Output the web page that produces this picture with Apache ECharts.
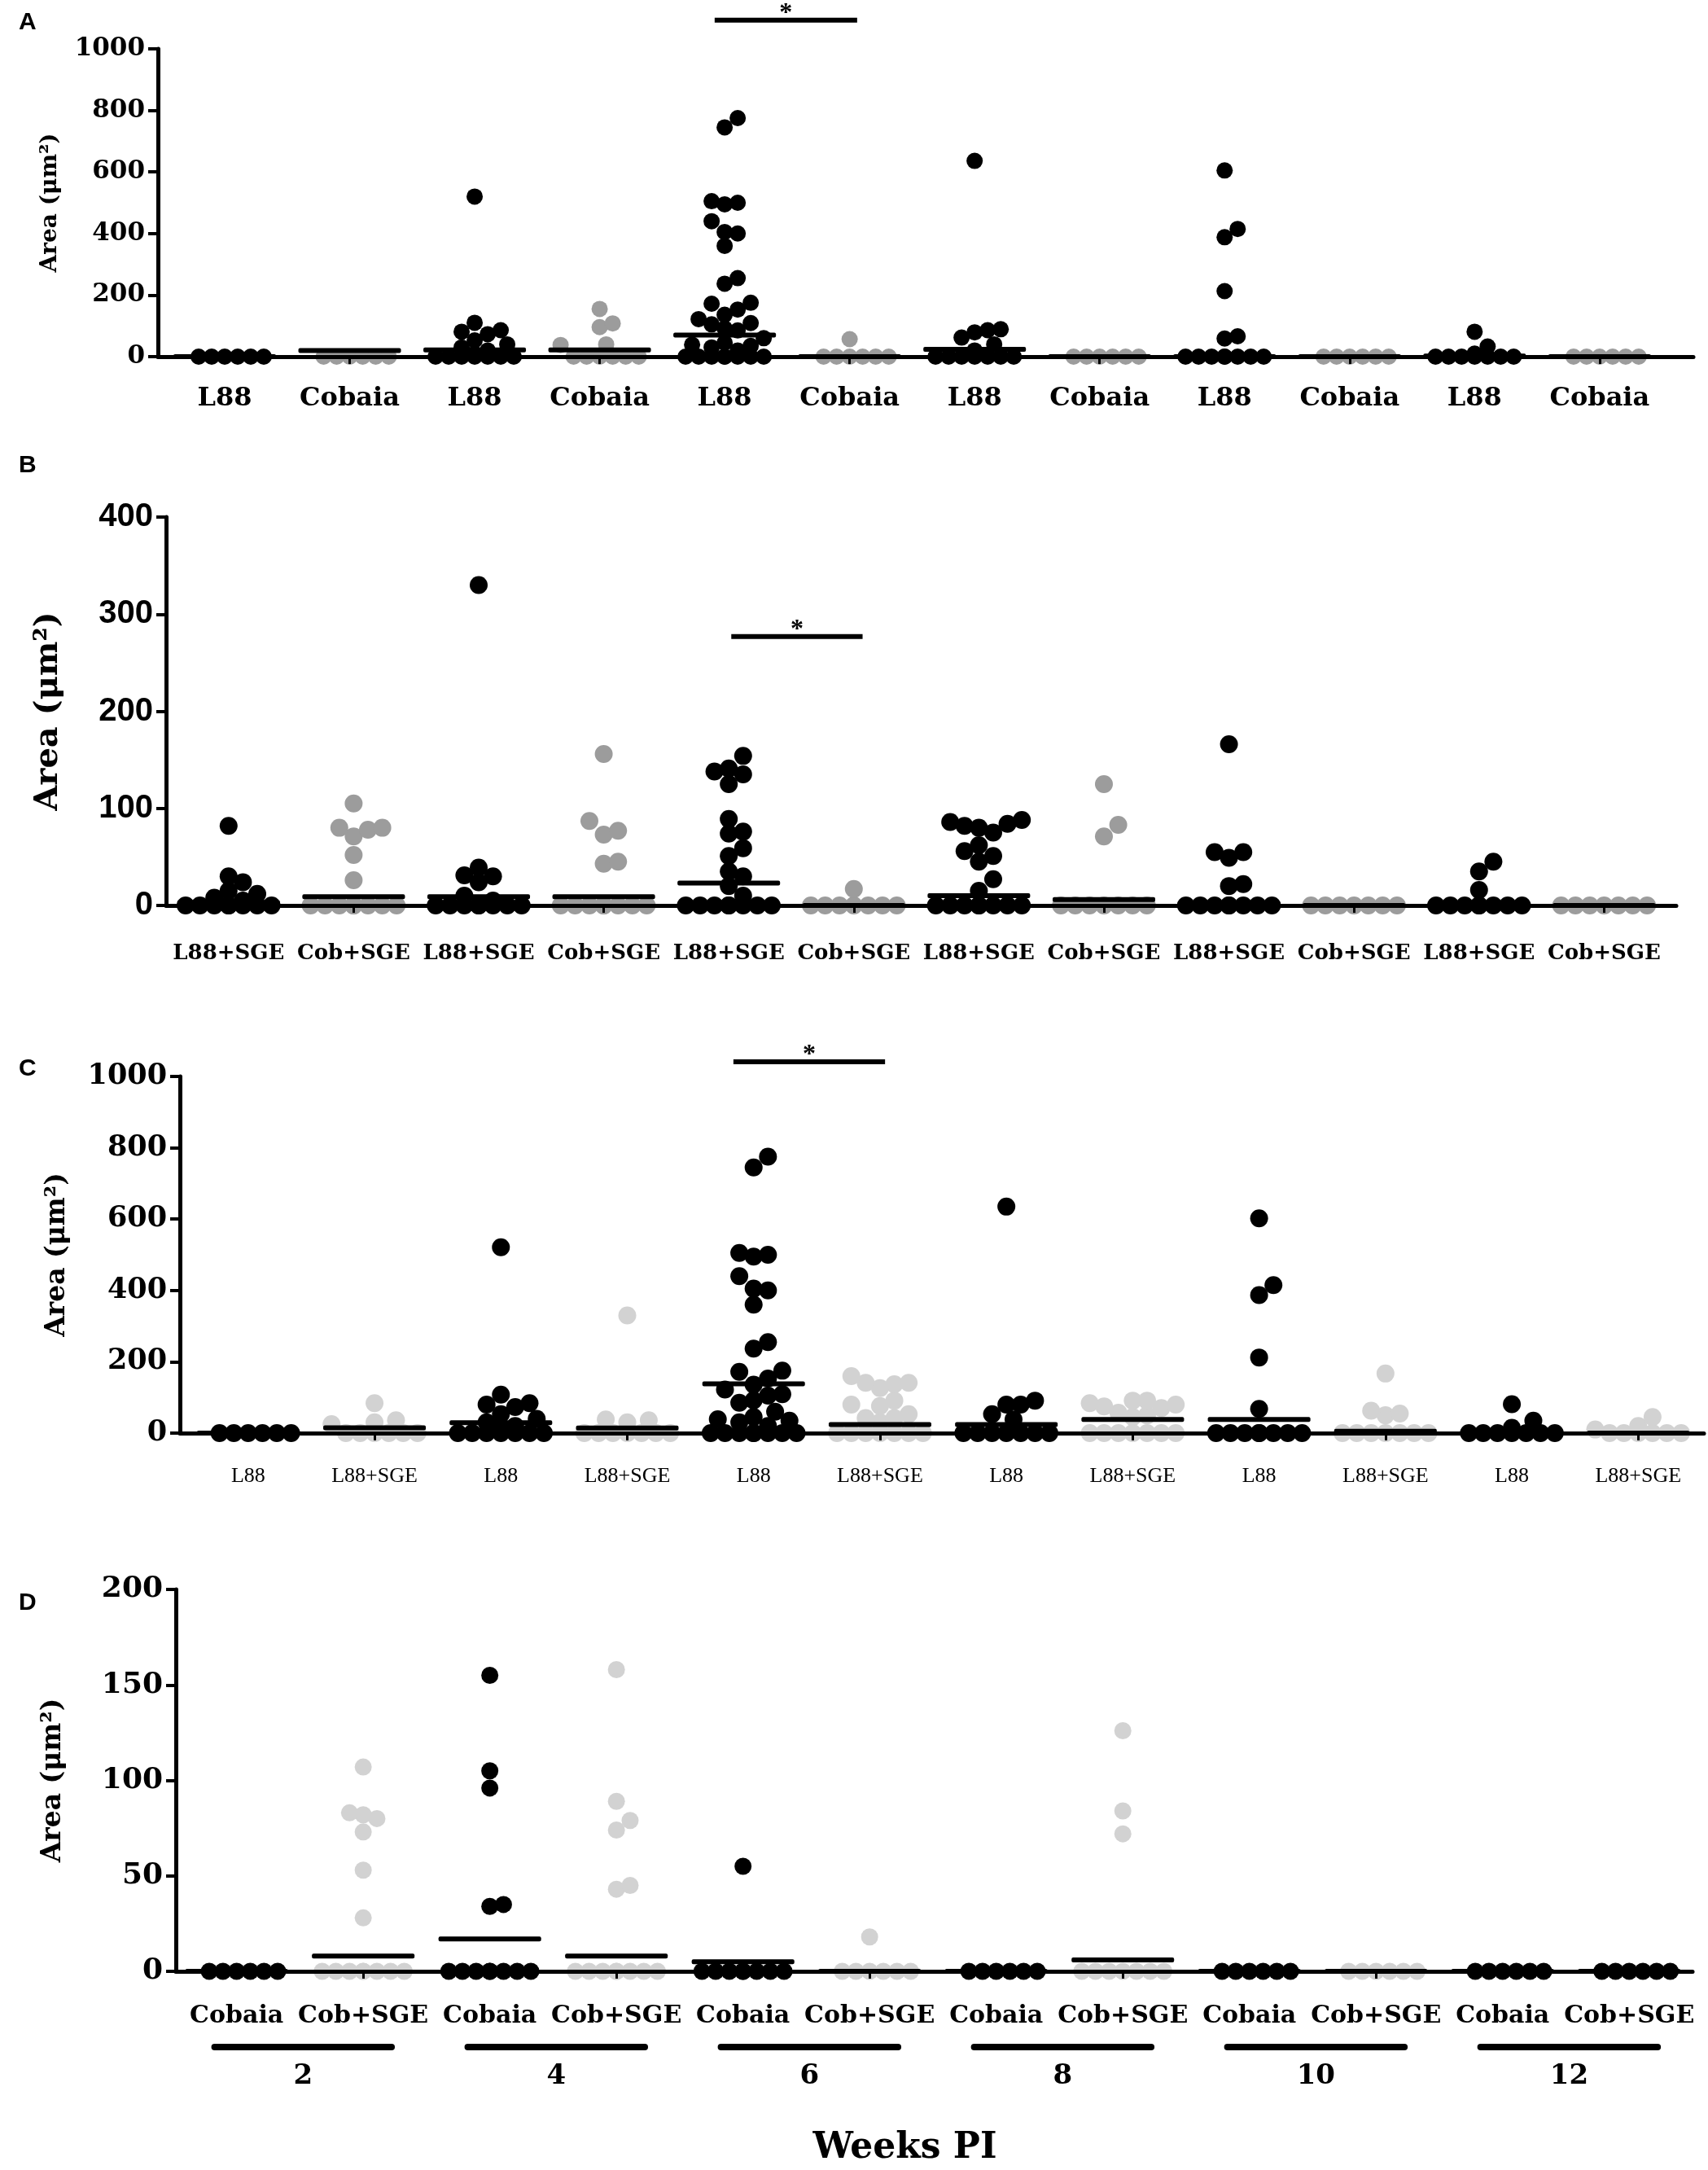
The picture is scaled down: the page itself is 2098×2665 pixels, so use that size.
<!DOCTYPE html>
<html>
<head>
<meta charset="utf-8">
<script src="https://cdn.jsdelivr.net/npm/echarts@6/dist/echarts.min.js"></script>
<style>
html, body { margin: 0; padding: 0; background: #fff; }
#chart { width: 2098px; height: 2665px; }
</style>
</head>
<body>
<div id="chart"></div>
<script>
// ---------- data ----------
const labelsA = ['L88', 'Cobaia', 'L88', 'Cobaia', 'L88', 'Cobaia', 'L88', 'Cobaia', 'L88', 'Cobaia', 'L88', 'Cobaia'];
const pointsA = [
    [0, 0, 0, 0, 0, 0],
    [0, 0, 0, 0, 0, 0],
    [520, 110, 86, 81, 73, 53, 40, 30, 20, 10, 0, 0, 0, 0, 0, 0, 0],
    [155, 108, 96, 40, 38, 0, 0, 0, 0, 0, 0],
    [775, 745, 505, 500, 495, 440, 405, 400, 360, 255, 237, 175, 172, 153, 136, 122, 109, 105, 92, 85, 60, 45, 39, 35, 30, 20, 0, 0, 0, 0, 0, 0, 0, 0],
    [57, 0, 0, 0, 0, 0, 0],
    [636, 89, 86, 79, 62, 40, 20, 0, 0, 0, 0, 0, 0, 0],
    [0, 0, 0, 0, 0, 0],
    [605, 415, 388, 213, 66, 59, 0, 0, 0, 0, 0, 0, 0, 0],
    [0, 0, 0, 0, 0, 0],
    [81, 33, 10, 0, 0, 0, 0, 0, 0, 0],
    [0, 0, 0, 0, 0, 0]
];
const meansA = [0, 20, 22, 22, 70, 0, 24, 0, 0, 0, 2, 0];
const sigA = { from: 4, to: 5, y: 1093 };

const labelsB = ['L88+SGE', 'Cob+SGE', 'L88+SGE', 'Cob+SGE', 'L88+SGE', 'Cob+SGE', 'L88+SGE', 'Cob+SGE', 'L88+SGE', 'Cob+SGE', 'L88+SGE', 'Cob+SGE'];
const pointsB = [
    [82, 30, 24, 15, 12, 8, 5, 0, 0, 0, 0, 0, 0, 0, 0],
    [105, 80, 80, 78, 71, 52, 26, 0, 0, 0, 0, 0, 0, 0, 0],
    [330, 39, 31, 30, 24, 10, 5, 0, 0, 0, 0, 0, 0, 0, 0],
    [156, 87, 77, 73, 45, 43, 0, 0, 0, 0, 0, 0, 0, 0],
    [154, 141, 138, 135, 125, 89, 76, 74, 59, 51, 35, 30, 20, 10, 0, 0, 0, 0, 0, 0, 0, 0],
    [17, 0, 0, 0, 0, 0, 0, 0],
    [88, 86, 84, 82, 80, 75, 62, 56, 51, 45, 27, 15, 0, 0, 0, 0, 0, 0, 0, 0],
    [125, 83, 71, 0, 0, 0, 0, 0, 0, 0],
    [166, 55, 55, 49, 22, 20, 0, 0, 0, 0, 0, 0, 0, 0],
    [0, 0, 0, 0, 0, 0, 0],
    [45, 35, 16, 0, 0, 0, 0, 0, 0, 0, 0],
    [0, 0, 0, 0, 0, 0, 0]
];
const meansB = [3, 9, 9, 9, 23, 0, 10, 6, 2, 0, 1, 0];
const sigB = { from: 4, to: 5, y: 277 };

const labelsC = ['L88', 'L88+SGE', 'L88', 'L88+SGE', 'L88', 'L88+SGE', 'L88', 'L88+SGE', 'L88', 'L88+SGE', 'L88', 'L88+SGE'];
const pointsC = [
    [0, 0, 0, 0, 0, 0],
    [84, 36, 30, 25, 0, 0, 0, 0, 0, 0],
    [521, 108, 84, 80, 73, 53, 40, 30, 20, 10, 0, 0, 0, 0, 0, 0, 0],
    [330, 38, 36, 30, 0, 0, 0, 0, 0, 0, 0],
    [775, 745, 505, 500, 495, 440, 405, 400, 360, 255, 237, 175, 172, 153, 136, 122, 109, 105, 92, 85, 60, 45, 39, 35, 30, 20, 0, 0, 0, 0, 0, 0, 0, 0],
    [160, 141, 141, 137, 126, 91, 80, 76, 53, 42, 42, 30, 0, 0, 0, 0, 0, 0, 0],
    [635, 91, 80, 80, 53, 38, 0, 0, 0, 0, 0, 0, 0],
    [91, 91, 84, 80, 75, 70, 57, 50, 45, 0, 0, 0, 0, 0, 0, 0],
    [602, 415, 387, 212, 68, 0, 0, 0, 0, 0, 0, 0, 0],
    [167, 63, 55, 50, 0, 0, 0, 0, 0, 0, 0],
    [81, 35, 15, 0, 0, 0, 0, 0, 0, 0],
    [45, 20, 10, 0, 0, 0, 0, 0, 0]
];
const meansC = [0, 15, 29, 14, 138, 24, 24, 38, 38, 5, 2, 0];
const sigC = { from: 4, to: 5, y: 1041 };

const labelsD = ['Cobaia', 'Cob+SGE', 'Cobaia', 'Cob+SGE', 'Cobaia', 'Cob+SGE', 'Cobaia', 'Cob+SGE', 'Cobaia', 'Cob+SGE', 'Cobaia', 'Cob+SGE'];
const pointsD = [
    [0, 0, 0, 0, 0, 0],
    [107, 83, 82, 80, 73, 53, 28, 0, 0, 0, 0, 0, 0, 0, 0],
    [155, 105, 96, 35, 34, 0, 0, 0, 0, 0, 0, 0, 0],
    [158, 89, 79, 74, 45, 43, 0, 0, 0, 0, 0, 0, 0, 0],
    [55, 0, 0, 0, 0, 0, 0, 0, 0],
    [18, 0, 0, 0, 0, 0, 0],
    [0, 0, 0, 0, 0, 0],
    [126, 84, 72, 0, 0, 0, 0, 0, 0, 0],
    [0, 0, 0, 0, 0, 0],
    [0, 0, 0, 0, 0, 0],
    [0, 0, 0, 0, 0, 0],
    [0, 0, 0, 0, 0, 0]
];
const meansD = [0, 8, 17, 8, 5, 0, 0, 6, 0, 0, 0, 0];
const weeksD = ['2', '4', '6', '8', '10', '12'];

// ---------- layout / style ----------
const SERIF = 'Liberation Serif';
const WIDE_SERIF = 'DejaVu Serif';
const SANS = 'Liberation Sans';
const DARK_GREY = '#9c9c9c';
const LIGHT_GREY = '#d2d2d2';

const panels = [
    {
        letter: 'A', letterTop: 8, labels: labelsA, points: pointsA, means: meansA, sig: sigA, sigPad: [-0.08, 0.06],
        left: 194, top: 60, width: 1886, height: 378, xMin: -0.534, xMax: 11.75,
        yMax: 1000, yStep: 200, dot: 20, grey: DARK_GREY, colors: 'kgkgkgkgkgkg',
        tick: { fontFamily: WIDE_SERIF, fontWeight: 'bold', fontSize: 31 },
        cat: { fontFamily: WIDE_SERIF, fontWeight: 'bold', fontSize: 32 }, catMargin: 36,
        nameSize: 28, nameGap: 118
    },
    {
        letter: 'B', letterTop: 552, labels: labelsB, points: pointsB, means: meansB, sig: sigB, sigPad: [0.02, 0.07],
        left: 204, top: 635, width: 1855, height: 477, xMin: -0.50, xMax: 11.577,
        yMax: 400, yStep: 100, dot: 22, grey: DARK_GREY, colors: 'kgkgkgkgkgkg',
        tick: { fontFamily: SANS, fontWeight: 'bold', fontSize: 40 },
        cat: { fontFamily: WIDE_SERIF, fontWeight: 'bold', fontSize: 26 }, catMargin: 46,
        nameSize: 40, nameGap: 124
    },
    {
        letter: 'C', letterTop: 1293, labels: labelsC, points: pointsC, means: meansC, sig: sigC, sigPad: [-0.16, 0.04],
        left: 221, top: 1322, width: 1872, height: 438, xMin: -0.54, xMax: 11.52,
        yMax: 1000, yStep: 200, dot: 22, grey: LIGHT_GREY, colors: 'kgkgkgkgkgkg',
        tick: { fontFamily: WIDE_SERIF, fontWeight: 'bold', fontSize: 35 },
        cat: { fontFamily: SERIF, fontWeight: 'normal', fontSize: 26 }, catMargin: 40,
        nameSize: 33, nameGap: 134
    },
    {
        letter: 'D', letterTop: 1949, labels: labelsD, points: pointsD, means: meansD, sig: null,
        left: 216, top: 1952, width: 1863, height: 469, xMin: -0.48, xMax: 11.5,
        yMax: 200, yStep: 50, dot: 21, grey: LIGHT_GREY, colors: 'kgkgkgkgkgkk',
        tick: { fontFamily: WIDE_SERIF, fontWeight: 'bold', fontSize: 36 },
        cat: { fontFamily: WIDE_SERIF, fontWeight: 'bold', fontSize: 30 }, catMargin: 40,
        nameSize: 33, nameGap: 134
    }
];

// spread the points of one column side by side (column scatter layout)
function swarm(values, pyPerUnit, pxPerUnit, d) {
    const placed = [];
    const out = [];
    const step = d * 0.8;
    const maxHalf = 56;
    const cands = [0];
    for (let k = 1; k * step <= maxHalf; k++) cands.push(k * step, -k * step);
    for (let k = 0; (k + 0.5) * step <= maxHalf; k++) cands.push((k + 0.5) * step, -(k + 0.5) * step);
    const sorted = values.slice().sort((a, b) => a - b);
    for (const v of sorted) {
        const y = v * pyPerUnit;
        let best = 0, bestHits = Infinity;
        for (const c of cands) {
            let hits = 0;
            for (const p of placed) {
                if (Math.hypot(p.x - c, p.y - y) < step) hits++;
            }
            if (hits < bestHits) { bestHits = hits; best = c; }
            if (hits === 0) break;
        }
        placed.push({ x: best, y: y });
        out.push([best / pxPerUnit, v]);
    }
    return out;
}

const grid = [], xAxis = [], yAxis = [], series = [], title = [];

panels.forEach((p, idx) => {
    const pxPerUnit = p.width / (p.xMax - p.xMin);
    const pyPerUnit = p.height / p.yMax;
    const isD = p.letter === 'D';

    title.push({
        text: p.letter, left: 18, top: p.letterTop,
        textStyle: { fontFamily: SANS, fontWeight: 'bold', fontSize: 30, color: '#000' }
    });

    grid.push({ left: p.left, top: p.top, width: p.width, height: p.height, outerBoundsMode: 'none' });

    xAxis.push({
        type: 'value', gridIndex: idx, min: p.xMin, max: p.xMax, z: 3,
        axisLine: { show: true, onZero: false, lineStyle: { color: '#000', width: 5 } },
        axisTick: { show: true, customValues: p.labels.map((_, i) => i), length: 9, lineStyle: { color: '#000', width: 3 } },
        axisLabel: {
            customValues: p.labels.map((_, i) => i),
            formatter: v => p.labels[Math.round(v)],
            color: '#000', margin: p.catMargin, ...p.cat
        },
        splitLine: { show: false },
        name: isD ? 'Weeks PI' : '',
        nameLocation: 'middle', nameGap: 196,
        nameTextStyle: { fontFamily: WIDE_SERIF, fontWeight: 'bold', fontSize: 44, color: '#000', padding: [0, 72, 0, 0] }
    });

    yAxis.push({
        type: 'value', gridIndex: idx, min: 0, max: p.yMax, interval: p.yStep,
        axisLine: { show: true, onZero: false, lineStyle: { color: '#000', width: 5 } },
        axisTick: { show: true, length: 12, lineStyle: { color: '#000', width: 4 } },
        axisLabel: { color: '#000', margin: 16, formatter: v => String(v), ...p.tick },
        splitLine: { show: false },
        name: 'Area (μm²)', nameLocation: 'middle', nameRotate: 90, nameGap: p.nameGap,
        nameTextStyle: { fontFamily: WIDE_SERIF, fontWeight: 'bold', fontSize: p.nameSize, color: '#000' }
    });

    const black = [], grey = [];
    p.points.forEach((vals, i) => {
        const pts = swarm(vals, pyPerUnit, pxPerUnit, p.dot).map(pt => [i + pt[0], pt[1]]);
        (p.colors[i] === 'k' ? black : grey).push(...pts);
    });

    series.push({
        type: 'scatter', xAxisIndex: idx, yAxisIndex: idx, data: grey, symbol: 'circle',
        symbolSize: p.dot, itemStyle: { color: p.grey, opacity: 1 }, clip: false, z: 2, silent: true
    });
    series.push({
        type: 'scatter', xAxisIndex: idx, yAxisIndex: idx, data: black, symbol: 'circle',
        symbolSize: p.dot, itemStyle: { color: '#000', opacity: 1 }, clip: false, z: 2, silent: true
    });

    // mean lines
    series.push({
        type: 'custom', xAxisIndex: idx, yAxisIndex: idx, clip: false, z: 4, silent: true,
        data: p.means.map((m, i) => [i, m]),
        renderItem: (params, api) => {
            const c = api.coord([api.value(0), api.value(1)]);
            return { type: 'rect', shape: { x: c[0] - 63, y: c[1] - 3, width: 126, height: 6, r: 2 }, style: { fill: '#000' } };
        }
    });

    // significance bar
    if (p.sig) {
        series.push({
            type: 'custom', xAxisIndex: idx, yAxisIndex: idx, clip: false, z: 4, silent: true,
            data: [[p.sig.from + p.sigPad[0], p.sig.to + p.sigPad[1], p.sig.y]],
            renderItem: (params, api) => {
                const a = api.coord([api.value(0), api.value(2)]);
                const b = api.coord([api.value(1), api.value(2)]);
                return {
                    type: 'group', children: [
                        { type: 'rect', shape: { x: a[0], y: a[1] - 3, width: b[0] - a[0], height: 6 }, style: { fill: '#000' } },
                        { type: 'text', style: { x: (a[0] + b[0]) / 2, y: a[1] - 8, text: '*', fill: '#000',
                            font: 'bold 32px "Liberation Serif"', textAlign: 'center', textVerticalAlign: 'middle' } }
                    ]
                };
            }
        });
    }

    // week groups under panel D
    if (isD) {
        series.push({
            type: 'custom', xAxisIndex: idx, yAxisIndex: idx, clip: false, z: 4, silent: true,
            data: weeksD.map((w, k) => [2 * k, 0]),
            renderItem: (params, api) => {
                const a = api.coord([api.value(0) - 0.2, 0]);
                const b = api.coord([api.value(0) + 1.25, 0]);
                const y = a[1] + 93;
                return {
                    type: 'group', children: [
                        { type: 'rect', shape: { x: a[0], y: y - 4, width: b[0] - a[0], height: 8, r: 4 }, style: { fill: '#000' } },
                        { type: 'text', style: { x: (a[0] + b[0]) / 2, y: y + 36, text: weeksD[params.dataIndex], fill: '#000',
                            font: 'bold 34px "DejaVu Serif"', textAlign: 'center', textVerticalAlign: 'middle' } }
                    ]
                };
            }
        });
    }
});

const chart = echarts.init(document.getElementById('chart'), null, { renderer: 'canvas' });
chart.setOption({
    backgroundColor: '#fff',
    animation: false,
    title: title,
    grid: grid,
    xAxis: xAxis,
    yAxis: yAxis,
    series: series
});
</script>
</body>
</html>
